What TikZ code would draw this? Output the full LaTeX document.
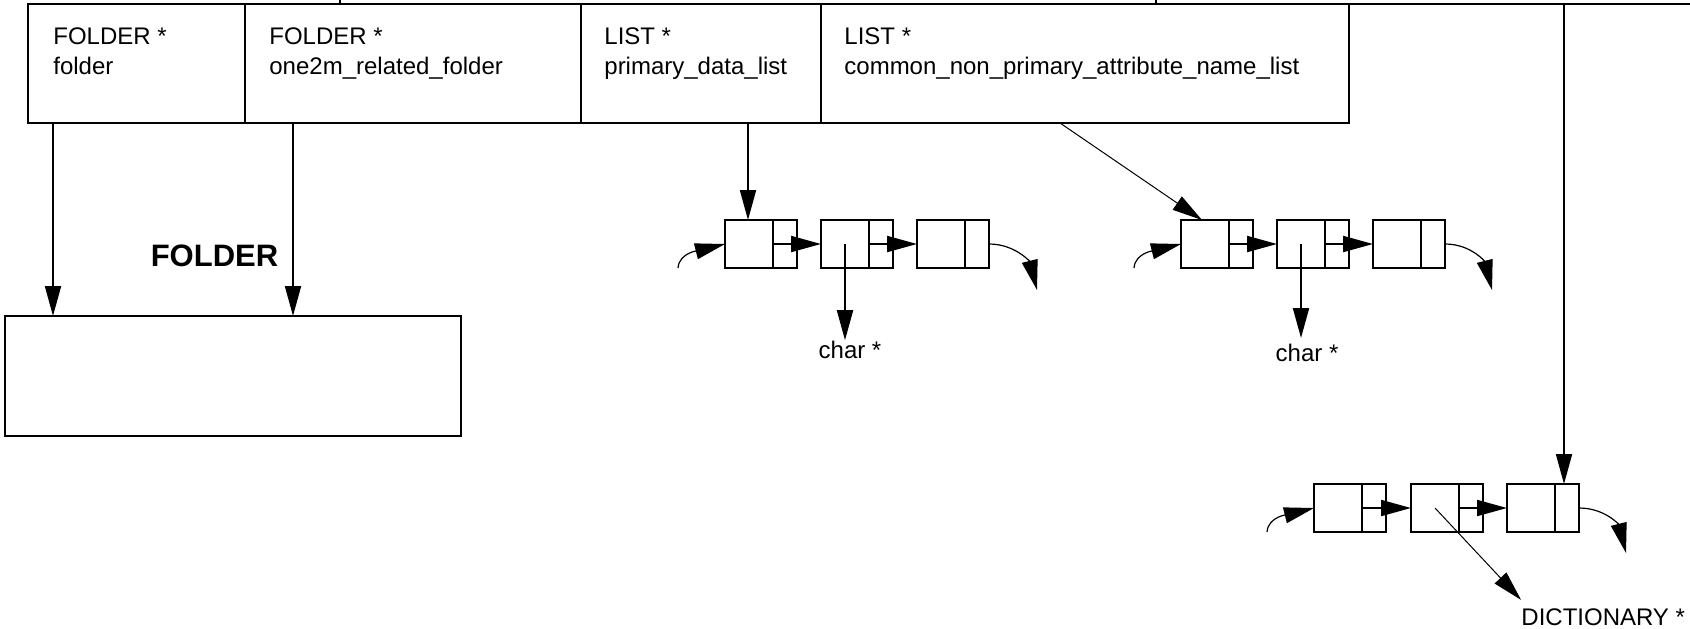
\documentclass[tikz,border=0pt]{standalone}
\usepackage{fontspec}
\setmainfont{Liberation Sans}
\usetikzlibrary{arrows.meta,calc}
\begin{document}
\begin{tikzpicture}[x=0.5pt,y=-0.5pt,
  boxln/.style={draw, line width=1.2pt, outer sep=0pt},
  cell/.style={boxln, inner sep=0, anchor=north west, minimum height=59.5pt},
  celltext/.style={anchor=north west, inner sep=0, align=left, font=\fontsize{12}{15}\selectfont},
  lbl/.style={inner sep=0, font=\fontsize{12}{15}\selectfont},
  lbox/.style={boxln, inner sep=0, minimum width=36pt, minimum height=24pt},
  tip/.style={-{Triangle[length=15pt,width=8pt]}},
  ptr/.style={tip, line width=1pt},
  thinptr/.style={tip, line width=0.5pt},
  curv/.style={tip, line width=0.6pt},
  divln/.style={line width=1.2pt}
]
\useasboundingbox (0,0) rectangle (1690,628);

% top structure cells
\node[cell, minimum width=108.5pt] (c1) at (28,4) {};
\node[cell, minimum width=168pt] (c2) at (c1.north east) {};
\node[cell, minimum width=120pt] (c3) at (c2.north east) {};
\node[cell, minimum width=264pt] (c4) at (c3.north east) {};
\node[celltext] (t1) at ($(c1.north west)+(25,23)$) {FOLDER *\\folder};
\node[celltext] (t2) at ($(c2.north west)+(24,23)$) {FOLDER *\\one2m\_related\_folder};
\node[celltext] (t3) at ($(c3.north west)+(23,23)$) {LIST *\\primary\_data\_list};
\node[celltext] (t4) at ($(c4.north west)+(23,23)$) {LIST *\\common\_non\_primary\_attribute\_name\_list};

\coordinate (topR) at (1690,4);
\draw[divln] (c4.north east) -- (topR);
\coordinate (k1a) at (340,0); \coordinate (k1b) at (340,4);
\coordinate (k2a) at (1156,0); \coordinate (k2b) at (1156,4);
\draw[divln] (k1a) -- (k1b);
\draw[divln] (k2a) -- (k2b);

% FOLDER box
\node[boxln, inner sep=0, minimum width=228pt, minimum height=60pt, anchor=north west] (fb) at (5,316) {};
\node[font=\bfseries\fontsize{15.5}{18}\selectfont, inner sep=0, anchor=base] (flab) at (214.5,266) {FOLDER};

% lists
\node[lbox] (l1a) at (761,244) {};
\node[lbox] (l1b) at (857,244) {};
\node[lbox] (l1c) at (953,244) {};
\node[lbox] (l2a) at (1217,244) {};
\node[lbox] (l2b) at (1313,244) {};
\node[lbox] (l2c) at (1409,244) {};
\node[lbox] (l3a) at (1350,508) {};
\node[lbox] (l3b) at (1447,508) {};
\node[lbox] (l3c) at (1543,508) {};
\foreach \b in {l1a,l1b,l1c,l2a,l2b,l2c,l3a,l3b,l3c}{
  \draw[divln] ($(\b.north east)+(-24,0)$) -- ($(\b.south east)+(-24,0)$);
}
\draw[ptr] ($(l1a.east)+(-24,0)$) -- (l1b.west);
\draw[ptr] ($(l1b.east)+(-24,0)$) -- (l1c.west);
\draw[ptr] ($(l2a.east)+(-24,0)$) -- (l2b.west);
\draw[ptr] ($(l2b.east)+(-24,0)$) -- (l2c.west);
\draw[ptr] ($(l3a.east)+(-24,0)$) -- (l3b.west);
\draw[ptr] ($(l3b.east)+(-24,0)$) -- (l3c.west);

% labels
\node[lbl, anchor=base] (ch1) at (850,358) {char *};
\node[lbl, anchor=base] (ch2) at (1307,361) {char *};
\node[lbl, anchor=base west] (dict) at (1521,625) {DICTIONARY *};

% pointers from cells
\coordinate (s1) at ($(c1.south west)+(25,0)$);
\coordinate (s2) at ($(c2.south west)+(48,0)$);
\coordinate (s3) at ($(c3.south west)+(167,0)$);
\coordinate (s4) at ($(c4.south west)+(239,0)$);
\coordinate (s5) at (1564,4);
\draw[ptr] (s1) -- (s1 |- fb.north);
\draw[ptr] (s2) -- (s2 |- fb.north);
\draw[ptr] (s3) -- (s3 |- l1a.north);
\coordinate (e4) at ($(l2a.north west)+(21,0)$);
\draw[thinptr] (s4) -- (e4);
\draw[ptr] (s5) -- (s5 |- l3c.north);

% data pointers
\coordinate (d1) at ($(l1b.center)+(-12,0)$);
\coordinate (d2) at ($(l2b.center)+(-12,0)$);
\coordinate (d3) at ($(l3b.center)+(-12,0)$);
\coordinate (e2) at (1301,338);
\draw[ptr] (d1) -- (d1 |- ch1.north);
\draw[ptr] (d2) -- (e2);
\draw[thinptr] (d3) -- ([yshift=4pt]dict.north west);

% incoming / outgoing curves
\coordinate (i1) at ($(l1a.west)+(-47,24)$);
\coordinate (o1) at ($(l1c.east)+(48,46)$);
\coordinate (i2) at ($(l2a.west)+(-47,24)$);
\coordinate (o2) at ($(l2c.east)+(47,46)$);
\coordinate (i3) at ($(l3a.west)+(-47,24)$);
\coordinate (o3) at ($(l3c.east)+(47,45)$);
\draw[curv] (i1) .. controls ($(i1)+(1,-16)$) and ($(l1a.west)+(-24,6)$) .. (l1a.west);
\draw[curv] (i2) .. controls ($(i2)+(1,-16)$) and ($(l2a.west)+(-24,6)$) .. (l2a.west);
\draw[curv] (i3) .. controls ($(i3)+(1,-16)$) and ($(l3a.west)+(-24,6)$) .. (l3a.west);
\draw[curv] (l1c.east) .. controls ($(l1c.east)+(26,0)$) and ($(o1)+(-7,-28)$) .. (o1);
\draw[curv] (l2c.east) .. controls ($(l2c.east)+(26,0)$) and ($(o2)+(-7,-28)$) .. (o2);
\draw[curv] (l3c.east) .. controls ($(l3c.east)+(26,0)$) and ($(o3)+(-7,-28)$) .. (o3);
\end{tikzpicture}
\end{document}
